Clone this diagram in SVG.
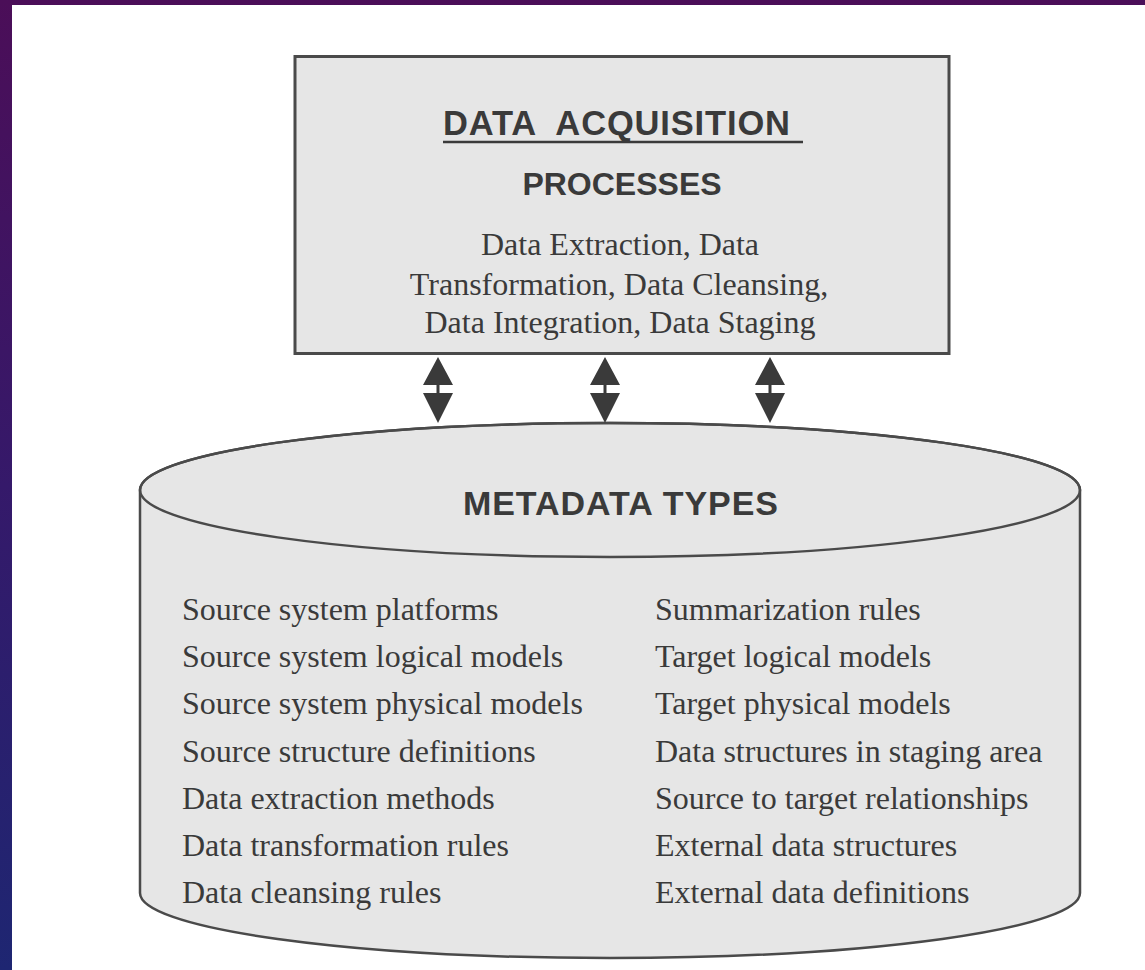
<svg xmlns="http://www.w3.org/2000/svg" width="1145" height="970" viewBox="0 0 1145 970">
<defs>
<linearGradient id="frame" x1="0" y1="0" x2="0" y2="1">
<stop offset="0" stop-color="#4b0e58"/>
<stop offset="0.5" stop-color="#35196a"/>
<stop offset="1" stop-color="#1e2672"/>
</linearGradient>
<style>
.sans{font-family:"Liberation Sans",Arial,sans-serif;font-weight:bold;fill:#3a3a3a}
.serif{font-family:"Liberation Serif","Times New Roman",serif;fill:#3a3a3a;font-size:32px}
.shape{fill:#e6e6e6;stroke:#4a4a4a}
.arrow{fill:#3a3a3a}
</style>
</defs>
<rect x="0" y="0" width="1145" height="970" fill="url(#frame)"/>
<rect x="12" y="5" width="1133" height="965" fill="#ffffff"/>

<g id="acquisition">
<rect class="shape" x="295" y="56.5" width="654" height="297" stroke-width="3"/>
<text class="sans" x="443" y="135" font-size="34.5" xml:space="preserve" textLength="347" lengthAdjust="spacing">DATA  ACQUISITION</text>
<line x1="443" y1="142" x2="803" y2="142" stroke="#3a3a3a" stroke-width="2.5"/>
<text class="sans" x="622" y="195" font-size="32" text-anchor="middle">PROCESSES</text>
<text class="serif" x="620" y="255" text-anchor="middle">Data Extraction, Data</text>
<text class="serif" x="619" y="295" text-anchor="middle">Transformation, Data Cleansing,</text>
<text class="serif" x="620" y="333" text-anchor="middle">Data Integration, Data Staging</text>
</g>

<g id="metadata">
<path class="shape" stroke-width="2.5" d="M140,490 L140,893 A470,65 0 0 0 1080,893 L1080,490 A470,67 0 0 0 140,490 Z"/>
<ellipse cx="610" cy="490" rx="470" ry="67" fill="none" stroke="#4a4a4a" stroke-width="2.5"/>
<text class="sans" x="463" y="515" font-size="34" textLength="315" lengthAdjust="spacing">METADATA TYPES</text>
<g class="serif">
<text x="182" y="620">Source system platforms</text>
<text x="182" y="667">Source system logical models</text>
<text x="182" y="714">Source system physical models</text>
<text x="182" y="762">Source structure definitions</text>
<text x="182" y="809">Data extraction methods</text>
<text x="182" y="856">Data transformation rules</text>
<text x="182" y="903">Data cleansing rules</text>
<text x="655" y="620">Summarization rules</text>
<text x="655" y="667">Target logical models</text>
<text x="655" y="714">Target physical models</text>
<text x="655" y="762">Data structures in staging area</text>
<text x="655" y="809">Source to target relationships</text>
<text x="655" y="856">External data structures</text>
<text x="655" y="903">External data definitions</text>
</g>
</g>

<g id="connectors" class="arrow">
<g transform="translate(438,0)">
<path d="M0,357 L15,385 L-15,385 Z M-1.5,385 L1.5,385 L1.5,393 L-1.5,393 Z M-15,393 L15,393 L0,423 Z"/>
</g>
<g transform="translate(605,0)">
<path d="M0,357 L15,385 L-15,385 Z M-1.5,385 L1.5,385 L1.5,393 L-1.5,393 Z M-15,393 L15,393 L0,423 Z"/>
</g>
<g transform="translate(770,0)">
<path d="M0,357 L15,385 L-15,385 Z M-1.5,385 L1.5,385 L1.5,393 L-1.5,393 Z M-15,393 L15,393 L0,423 Z"/>
</g>
</g>
</svg>
